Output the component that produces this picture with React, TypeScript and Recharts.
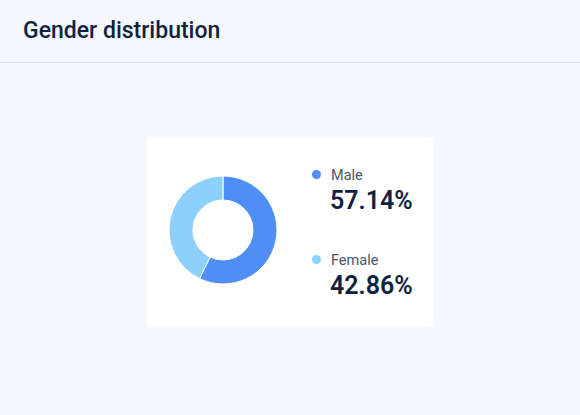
import { PieChart, Pie, Cell, Legend } from 'recharts';

const genders = ['Male', 'Female'];
const shares = [57.14, 42.86];
const colors = ['#4F8EF7', '#8DD0FD'];

const chartData = genders.map((name, i) => ({ name, value: shares[i] }));

function GenderLegend(props: any) {
    const items = [...(props.payload || [])].sort(
        (a: any, b: any) => genders.indexOf(a.value) - genders.indexOf(b.value)
    );
    return (
        <div>
            {items.map((entry: any, i: number) => (
                <div key={entry.value} style={{ marginBottom: i === items.length - 1 ? 0 : 37 }}>
                    <div style={{ display: 'flex', alignItems: 'center', height: 16 }}>
                        <span
                            style={{
                                width: 9,
                                height: 9,
                                borderRadius: '50%',
                                background: entry.color,
                                marginLeft: -1,
                                marginRight: 10,
                                marginTop: -3,
                            }}
                        />
                        <span style={{ fontSize: 14.5, lineHeight: '16px', color: '#4A5568' }}>{entry.value}</span>
                    </div>
                    <div
                        style={{
                            marginTop: 2,
                            marginLeft: 17,
                            fontSize: 25,
                            lineHeight: '30px',
                            fontWeight: 600,
                            color: '#0E2240',
                        }}
                    >
                        {entry.payload.value.toFixed(2)}%
                    </div>
                </div>
            ))}
        </div>
    );
}

export default function App() {
    return (
        <div
            style={{
                position: 'absolute',
                left: 0,
                top: 0,
                width: 580,
                height: 415,
                background: '#F4F8FD',
                fontFamily: 'Roboto, sans-serif',
            }}
        >
            <div
                style={{
                    position: 'absolute',
                    left: 23,
                    top: 16,
                    fontSize: 23,
                    lineHeight: '30px',
                    fontWeight: 500,
                    color: '#0E2240',
                }}
            >
                Gender distribution
            </div>
            <div style={{ position: 'absolute', left: 0, top: 62, width: 580, height: 1, background: '#D9DFE7' }} />
            <div
                style={{
                    position: 'absolute',
                    left: 147,
                    top: 137,
                    width: 286,
                    height: 190,
                    background: '#FFFFFF',
                    borderRadius: 4,
                }}
            >
                <PieChart width={286} height={190} margin={{ top: 0, right: 0, bottom: 0, left: 0 }}>
                    <Pie
                        data={chartData}
                        dataKey="value"
                        nameKey="name"
                        cx={76}
                        cy={93}
                        innerRadius={30}
                        outerRadius={54}
                        startAngle={90}
                        endAngle={-270}
                        stroke="#FFFFFF"
                        strokeWidth={1}
                        isAnimationActive={false}
                    >
                        {chartData.map((d, i) => (
                            <Cell key={d.name} fill={colors[i]} />
                        ))}
                    </Pie>
                    <Legend
                        layout="vertical"
                        content={<GenderLegend />}
                        wrapperStyle={{ position: 'absolute', left: 166, top: 31, width: 110 }}
                    />
                </PieChart>
            </div>
        </div>
    );
}
